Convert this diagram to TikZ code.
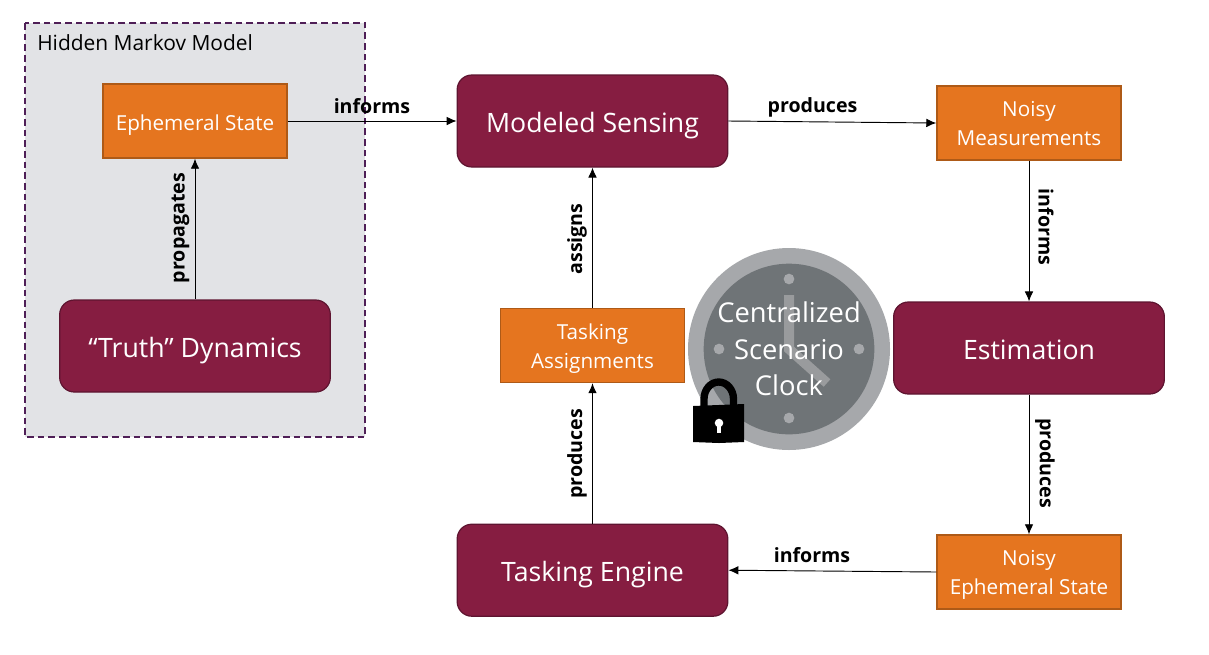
\documentclass[tikz,border=0pt]{standalone}
\usepackage{fontspec}
\setmainfont{Open Sans}
\usepackage{tikz}
\usetikzlibrary{positioning, arrows.meta}

\definecolor{wine}{HTML}{861D41}
\definecolor{wineline}{HTML}{5E1430}
\definecolor{carrot}{HTML}{E5751F}
\definecolor{carrotline}{HTML}{AE5A17}
\definecolor{hmmfill}{HTML}{E2E3E6}
\definecolor{hmmline}{HTML}{4F1F57}
\definecolor{clockrim}{HTML}{A6A8AB}
\definecolor{clockface}{HTML}{6F7477}

\begin{document}
\begin{tikzpicture}[
x=0.75pt, y=-0.75pt,
myblock/.style={rectangle,
  rounded corners=11pt,
  draw=wineline,
  fill=wine,
  text=white,
  line width=0.9pt,
  minimum width=203pt,
  minimum height=69pt,
  align=center,
  text height=18.5pt,
  text depth=2pt,
  font=\fontsize{20}{22}\selectfont,
},
mystate/.style={rectangle,
  draw=carrotline,
  fill=carrot,
  text=white,
  line width=1.1pt,
  minimum width=138pt,
  minimum height=55.5pt,
  align=center,
  text height=19pt,
  text depth=5pt,
  font=\fontsize{15.5}{21.75}\selectfont,
},
mytwoline/.style={mystate,
  text height=36pt,
  text depth=2pt,
},
myedge/.style={->,black,line width=0.7pt},
mylabel/.style={font=\fontsize{14.7}{17}\selectfont\bfseries,inner sep=0pt},
>={Latex[length=7.5pt,width=6.5pt]}
]
\useasboundingbox (0,0) rectangle (1209,654);

% hidden markov box
\draw[draw=hmmline,fill=hmmfill,line width=1.1pt,dash pattern=on 5pt off 3pt] (25,23) rectangle (365,437);
\node[anchor=west,inner sep=0pt,font=\fontsize{15.7}{18}\selectfont] (hmm) at (37,43)
    {Hidden Markov Model};

% clock
\node[circle,fill=clockrim,minimum size=151.5pt,inner sep=0pt] (clock) at (789,349) {};
\node[circle,fill=clockface,minimum size=128pt,inner sep=0pt] (face) at (clock) {};
\draw[clockrim!92!black,line width=7.5pt] (789,295) -- (789,349) -- (827,383);
\foreach \dotx/\doty in {789/279, 789/418, 719/349, 859/349}
    \fill[clockrim] (\dotx,\doty) circle (4pt);
\node[text=white,align=center,font=\fontsize{20.5}{27.5}\selectfont,inner sep=0pt] (clocktext) at (789,349)
    {Centralized\\Scenario\\Clock};

% lock
\draw[black,line width=5.5pt] (704,408) -- (704,399) arc (180:360:14.75 and 17) -- (733.5,408);
\fill[black] (693,406) -- (744,404) -- (744,442) -- (719,443) -- (693,442) -- cycle;
\fill[white] (719,423) circle (3.2pt);
\fill[white] (717,424) rectangle (721,433);

% blocks
\node[myblock] (sensing) at (592.5,121)
    {Modeled Sensing};
\node[myblock, below= 267pt of sensing] (engine)
    {Tasking Engine};
\node[myblock] (truth) at (195,346)
    {“Truth” Dynamics};
\node[myblock] (est) at (1029,348)
    {Estimation};

% states
\node[mystate] (eph) at (195,121)
    {Ephemeral State};
\node[mytwoline] (meas) at (1029,123)
    {Noisy\\Measurements};
\node[mytwoline] (assign) at (592.5,345.5)
    {Tasking\\Assignments};
\node[mytwoline] (noisy) at (1029,572)
    {Noisy\\Ephemeral State};

% connectors
\draw[myedge] (truth.north) -- (eph.south);
\draw[myedge] (eph.east) -- (sensing.west);
\draw[myedge] (sensing.east) -- (meas.west);
\draw[myedge] (meas.south) -- (est.north);
\draw[myedge] (est.south) -- (noisy.north);
\draw[myedge] (noisy.west) -- (engine.east);
\draw[myedge] (engine.north) -- (assign.south);
\draw[myedge] (assign.north) -- (sensing.south);

% connector labels
\node[mylabel, rotate=90] (l1) at (180.5,228) {propagates};
\node[mylabel] (l2) at (372,106) {informs};
\node[mylabel] (l3) at (812.5,107) {produces};
\node[mylabel, rotate=-90] (l4) at (1046,227) {informs};
\node[mylabel, rotate=-90] (l5) at (1045,463) {produces};
\node[mylabel] (l6) at (812,555) {informs};
\node[mylabel, rotate=90] (l7) at (577,454) {produces};
\node[mylabel, rotate=90] (l8) at (577,239) {assigns};
\end{tikzpicture}
\end{document}
